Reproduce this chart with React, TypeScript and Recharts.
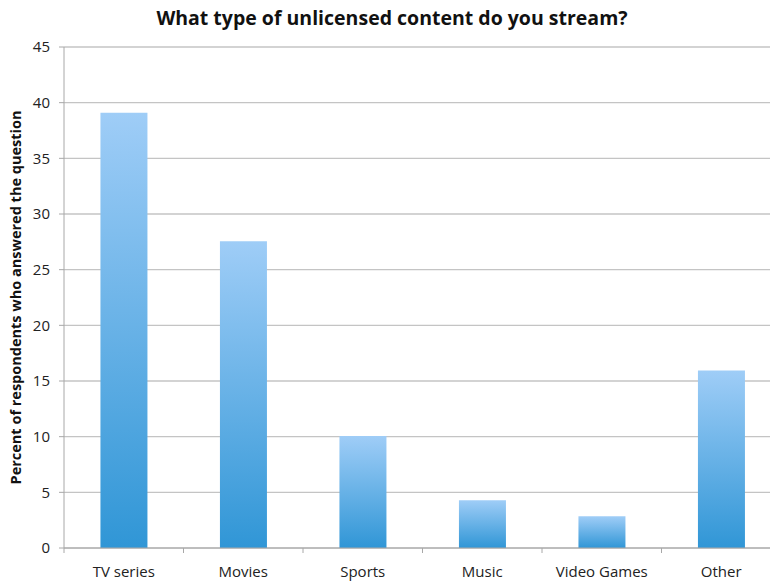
import React from 'react';
import { BarChart, Bar, XAxis, YAxis, CartesianGrid } from 'recharts';

// ============================================================================
// DATA
// ============================================================================

const CATEGORIES = ['TV series', 'Movies', 'Sports', 'Music', 'Video Games', 'Other'];
const PERCENTS = [39.1, 27.55, 10.05, 4.3, 2.85, 15.95];
const Y_TICKS = [0, 5, 10, 15, 20, 25, 30, 35, 40, 45];

const TITLE = 'What type of unlicensed content do you stream?';
const Y_LABEL = 'Percent of respondents who answered the question';

// ============================================================================
// CONSTANTS
// ============================================================================

const CHART_W = 782;
const CHART_H = 581;
const Y_AXIS_W = 64;
const PLOT_W = CHART_W - Y_AXIS_W - 1;
const BAND = PLOT_W / CATEGORIES.length;
const FONT = '"Open Sans", sans-serif';
const GRID = '#c4c4c4';
const AXIS = '#a8a8a8';

const data = CATEGORIES.map((name, i) => ({ name, value: PERCENTS[i] }));

// category label plus a tick mark on the left edge of its band (Excel style)
const CategoryTick = (props: any) => {
  const { x, y, payload } = props;
  const left = x - BAND / 2;
  return (
    <g>
      <line x1={left} y1={y - 8} x2={left} y2={y - 3} stroke={AXIS} />
      <text
        x={x}
        y={y + 21}
        textAnchor="middle"
        fill="#222"
        fontSize={15}
        fontFamily={FONT}
      >
        {payload.value}
      </text>
    </g>
  );
};

export default function App() {
  return (
    <div
      style={{
        position: 'absolute',
        left: 0,
        top: 0,
        width: 770,
        height: CHART_H,
        overflow: 'hidden',
        background: '#fff',
      }}
    >
      <div
        style={{
          position: 'absolute',
          left: 0,
          top: 4,
          width: 784,
          textAlign: 'center',
          fontFamily: FONT,
          fontWeight: 700,
          fontSize: 19.5,
          color: '#111',
          whiteSpace: 'nowrap',
        }}
      >
        {TITLE}
      </div>
      <BarChart
        width={CHART_W}
        height={CHART_H}
        data={data}
        barCategoryGap="30.5%"
        margin={{ top: 47, right: 1, left: 0, bottom: 0 }}
      >
        <defs>
          <linearGradient id="barFill" x1="0" y1="0" x2="0" y2="1">
            <stop offset="0%" stopColor="#9fcdf7" />
            <stop offset="100%" stopColor="#3096d6" />
          </linearGradient>
        </defs>
        <CartesianGrid vertical={false} stroke={GRID} strokeWidth={1.3} />
        <XAxis
          dataKey="name"
          height={33}
          axisLine={{ stroke: AXIS }}
          tickLine={false}
          tick={<CategoryTick />}
          interval={0}
        />
        <YAxis
          width={Y_AXIS_W}
          domain={[0, 45]}
          ticks={Y_TICKS}
          interval={0}
          axisLine={{ stroke: AXIS }}
          tickLine={{ stroke: AXIS }}
          tickSize={5}
          tickMargin={9}
          tick={{ fill: '#222', fontSize: 15, fontFamily: FONT }}
          label={{
            value: Y_LABEL,
            angle: -90,
            position: 'insideLeft',
            offset: 16,
            style: {
              textAnchor: 'middle',
              fill: '#111',
              fontSize: 14.5,
              fontWeight: 700,
              fontFamily: FONT,
            },
          }}
        />
        <Bar dataKey="value" fill="url(#barFill)" isAnimationActive={false} />
      </BarChart>
    </div>
  );
}
